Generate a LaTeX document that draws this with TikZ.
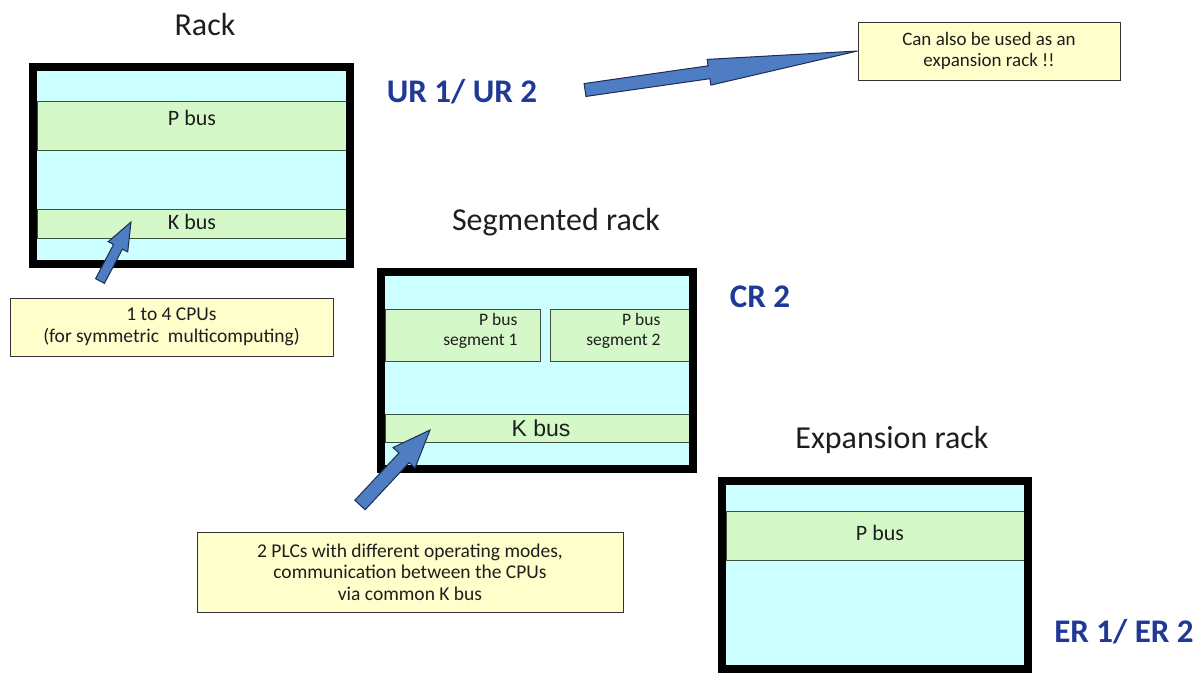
\documentclass[tikz,border=0pt]{standalone}
\usepackage{fontspec}
\setmainfont{Carlito}
\newfontfamily\arialfont{Liberation Sans}
\usetikzlibrary{calc}
\definecolor{rackcyan}{RGB}{204,255,255}
\definecolor{busgreen}{RGB}{212,248,200}
\definecolor{noteyellow}{RGB}{255,255,204}
\definecolor{labelblue}{RGB}{32,56,150}
\definecolor{arrowblue}{RGB}{79,125,195}
\definecolor{arrowedge}{RGB}{30,45,80}
\definecolor{bandedge}{RGB}{60,80,60}
\definecolor{txt}{RGB}{30,30,30}
\tikzset{
  rackframe/.style={draw=black, line width=8pt, fill=rackcyan, inner sep=0pt, outer sep=0pt},
  band/.style={draw=bandedge, line width=0.8pt, fill=busgreen, inner sep=0pt},
  note/.style={draw=black!80, line width=1pt, fill=noteyellow, align=center, inner sep=0pt, text=txt,
    font=\fontsize{19.5}{21.5}\selectfont},
  ttl/.style={font=\fontsize{32}{36}\selectfont, text=txt},
  code/.style={font=\fontsize{33}{36}\selectfont\bfseries, text=labelblue},
  bustext/.style={font=\fontsize{22}{24}\selectfont, text=txt},
  segtext/.style={font=\fontsize{17.5}{19.5}\selectfont, text=txt, align=right, anchor=east},
  barrow/.style={draw=arrowedge, line width=1pt, fill=arrowblue, line join=miter},
}
\newcommand\blockarr[5]{%
  \coordinate (#1-h) at ($(#2)!#5!(#1)$);
  \draw[barrow] ($(#1)!#3!90:(#2)$) -- ($(#1-h)!#3!90:(#2)$) -- ($(#1-h)!#4!90:(#2)$) -- (#2)
    -- ($(#1-h)!#4!-90:(#2)$) -- ($(#1-h)!#3!-90:(#2)$) -- ($(#1)!#3!-90:(#2)$) -- cycle;}
\begin{document}
\begin{tikzpicture}[x=1pt, y=-1pt]
\useasboundingbox (0,0) rectangle (1200,675);

% ---------- Rack (UR) ----------
\node[ttl] (t1) at (205,25) {Rack};
\node[rackframe, minimum width=317pt, minimum height=197pt] (rack) at (191.5,165.5) {};
\node[band, minimum width=310pt, minimum height=49pt] (pbus1) at (192,125.5) {};
\node[bustext] (pbus1t) at (192,118) {P bus};
\node[band, minimum width=310pt, minimum height=29pt] (kbus1) at (192,223.5) {};
\node[bustext] (kbus1t) at (192,222) {K bus};
\draw[black, line width=8pt] (rack.north west) rectangle (rack.south east);
\node[code] (ur) at (462,92) {UR 1/ UR 2};
\node[note, minimum width=323pt, minimum height=58pt] (n1) at (171.5,327)
  {1 to 4 CPUs\\(for symmetric\ \ multicomputing)};

% ---------- Segmented rack (CR) ----------
\node[ttl] (t2) at (556,222) {Segmented rack};
\node[rackframe, minimum width=312pt, minimum height=197pt] (seg) at (537,370.5) {};
\node[band, minimum width=155pt, minimum height=52pt] (seg1) at (462.5,335) {};
\node[segtext] (seg1t) at (521,331) {P bus\\segment 1};
\node[band, minimum width=141pt, minimum height=52pt] (seg2) at (620.5,335) {};
\node[segtext] (seg2t) at (664,331) {P bus\\segment 2};
\node[band, minimum width=306pt, minimum height=28pt] (kbus2) at (538,428) {};
\node[font=\arialfont\fontsize{23}{25}\selectfont, text=txt] (kbus2t) at (541,428) {K bus};
\draw[black, line width=8pt] (seg.north west) rectangle (seg.south east);
\node[code] (cr) at (760,297) {CR 2};
\node[note, minimum width=426pt, minimum height=80pt] (n2) at (410,572)
  {2 PLCs with different operating modes,\\communication between the CPUs\\via common K bus};

% ---------- Expansion rack (ER) ----------
\node[ttl] (t3) at (892,440) {Expansion rack};
\node[rackframe, minimum width=306pt, minimum height=188pt] (exp) at (875,575) {};
\node[band, minimum width=300pt, minimum height=49pt] (pbus3) at (876,535.5) {};
\node[bustext] (pbus3t) at (880,533) {P bus};
\draw[black, line width=8pt] (exp.north west) rectangle (exp.south east);
\node[code] (er) at (1124,632) {ER 1/ ER 2};

% ---------- top note ----------
\node[note, minimum width=262pt, minimum height=58pt, font=\fontsize{19}{21.5}\selectfont] (n3) at (989,51)
  {Can also be used as an\\expansion rack !!};

% ---------- block arrows ----------
\coordinate (a1tail) at (100,281);
\coordinate (a1tip) at (131,222);
\blockarr{a1tail}{a1tip}{5pt}{11pt}{28pt}
\coordinate (a2tail) at (360,505);
\coordinate (a2tip) at (430,430);
\blockarr{a2tail}{a2tip}{7pt}{15pt}{38pt}
\coordinate (a3tail) at (585,90);
\coordinate (a3tip) at (n3.west);
\blockarr{a3tail}{a3tip}{6.5pt}{13pt}{150pt}
\end{tikzpicture}
\end{document}
